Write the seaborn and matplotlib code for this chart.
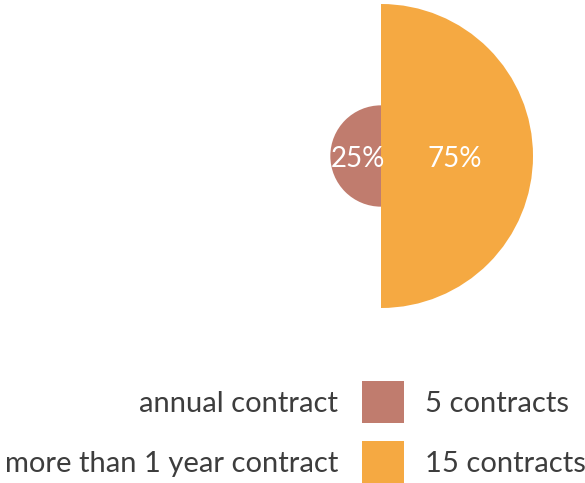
import matplotlib
matplotlib.use('Agg')
import matplotlib.pyplot as plt
from matplotlib.patches import Wedge, Rectangle
import seaborn as sns

# data
labels = ['annual contract', 'more than 1 year contract']
counts = [5, 15]
colors = ['#C07C6E', '#F5A942']

sns.set_theme(style='white')
plt.rcParams['font.family'] = ['Lato', 'DejaVu Sans']

W, H = 585, 483
fig = plt.figure(figsize=(W / 100, H / 100), dpi=100)
ax = fig.add_axes([0, 0, 1, 1])
ax.set_xlim(0, W)
ax.set_ylim(H, 0)
ax.axis('off')

# half-circle chart: radius proportional to the value
cx, cy, R = 381, 156, 152
total = sum(counts)
vmax = max(counts)
halves = [(90, 270), (-90, 90)]
for (t1, t2), c, col in zip(halves, counts, colors):
  r = R * c / vmax
  ax.add_patch(Wedge((cx, cy), r, t1, t2, facecolor=col, edgecolor='none'))
  sign = -1 if t1 == 90 else 1
  ax.text(cx + sign * r / 2 - sign * 2, cy + 3, f'{round(100 * c / total)}%',
          color='white', fontsize=20, ha='center', va='center')

# legend
sq = 42
rows_y = [402, 462]
for lab, c, col, y in zip(labels, counts, colors, rows_y):
  ax.add_patch(Rectangle((362, y - sq / 2), sq, sq, facecolor=col, edgecolor='none'))
  ax.text(338, y + 2, lab, ha='right', va='center', fontsize=21, color='#3d3d3d')
  ax.text(425, y + 2, f'{c} contracts', ha='left', va='center', fontsize=21,
          color='#3d3d3d')

fig.savefig('out.png', dpi=100)
